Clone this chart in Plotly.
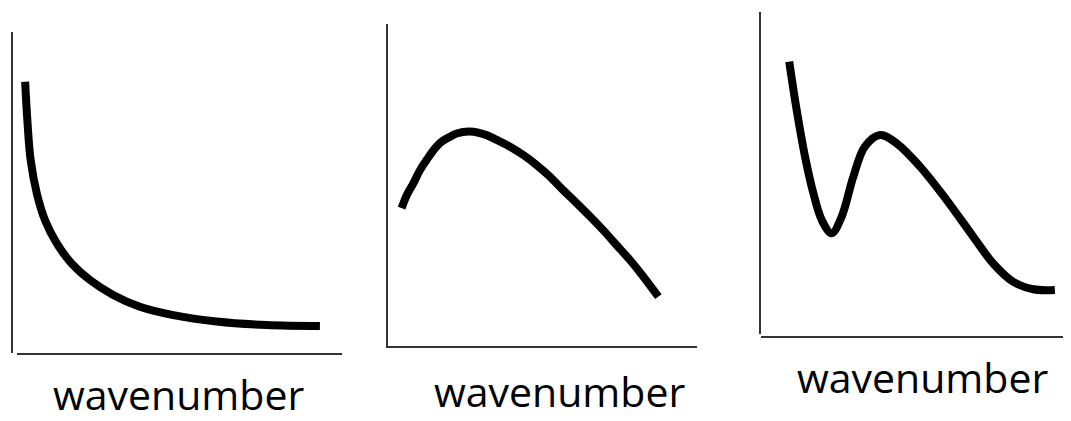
import plotly.graph_objects as go

# the page puts the plot 8px in from the top-left corner, so the figure is
# a little smaller and all pixel positions below are shifted by that amount
OFF = 8
W, H = 1071 - OFF, 421 - OFF

# curve values, arbitrary units 0-100 on both axes
decay_x = [2.5, 3.2, 4.2, 6.1, 8.6, 12.2, 16.8, 22.5, 29.6, 37.8, 48.1, 61.4, 76.8, 93.2]
decay_y = [84.5, 72.3, 60.1, 49.7, 41.4, 34.2, 27.9, 22.7, 18.1, 14.4, 11.8, 9.8, 8.7, 8.4]

peak_x = [4.4, 6.1, 8.2, 10.4, 12.5, 15.2, 17.4, 20.1, 22.2, 26.5, 31.9, 35.2, 39.5, 43.8,
          48.1, 52.4, 56.7, 61.1, 65.4, 69.7, 74.0, 78.3, 82.6, 87.5]
peak_y = [42.8, 46.9, 50.5, 54.7, 57.8, 61.4, 63.5, 65.0, 66.0, 66.6, 65.5, 64.0, 61.9, 59.3,
          56.2, 52.6, 48.4, 44.3, 40.2, 35.9, 31.3, 26.7, 21.6, 15.3]

mixed_x = [9.1, 11.5, 14.2, 16.9, 19.6, 22.8, 26.0, 29.8, 33.5, 38.4, 43.8, 51.3, 59.9, 68.5, 74.9, 81.4, 87.8, 94.8]
mixed_y = [84.6, 69.6, 55.1, 43.7, 35.4, 31.3, 36.4, 48.9, 58.2, 61.8, 59.2, 52.0, 41.6, 30.2, 21.9, 16.2, 13.9, 13.7]

x_label = "wavenumber"


def fx(px):
    # page pixel -> paper fraction
    return min(max((px - OFF) / W, 0), 1)


def fy(py):
    return min(max(1 - (py - OFF) / H, 0), 1)


fig = go.Figure()

series = [(decay_x, decay_y), (peak_x, peak_y), (mixed_x, mixed_y)]
for i, (xs, ys) in enumerate(series, start=1):
    fig.add_trace(go.Scatter(
        x=xs, y=ys, mode="lines",
        line=dict(color="black", width=8, shape="spline", smoothing=1.0),
        xaxis="x" if i == 1 else f"x{i}",
        yaxis="y" if i == 1 else f"y{i}",
        showlegend=False, hoverinfo="skip",
    ))

ax_style = dict(range=[0, 100], showgrid=False, zeroline=False, showticklabels=False,
                ticks="", showline=True, linecolor="#333333", linewidth=2, fixedrange=True)

fig.update_layout(
    width=W, height=H,
    margin=dict(l=0, r=0, t=0, b=0),
    paper_bgcolor="white", plot_bgcolor="white",
    # panel 1
    xaxis=dict(domain=[fx(17), fx(342)], anchor="y", **ax_style),
    yaxis=dict(domain=[fy(353), fy(32)], anchor="free", position=fx(11.5), **ax_style),
    # panel 2
    xaxis2=dict(domain=[fx(388), fx(697)], anchor="y2", **ax_style),
    yaxis2=dict(domain=[fy(346), fy(24)], anchor="x2", **ax_style),
    # panel 3
    xaxis3=dict(domain=[fx(761), fx(1071)], anchor="free", position=fy(337), **ax_style),
    yaxis3=dict(domain=[fy(334), fy(12)], anchor="x3", **ax_style),
)

label_font = dict(family="Open Sans", size=41, color="black")
for cx, cy in [(178, 394), (559, 391), (922, 377)]:
    fig.add_annotation(text=x_label, x=fx(cx), y=fy(cy), xref="paper", yref="paper",
                       xanchor="center", yanchor="middle", showarrow=False, font=label_font)

fig.write_html("out.html")
